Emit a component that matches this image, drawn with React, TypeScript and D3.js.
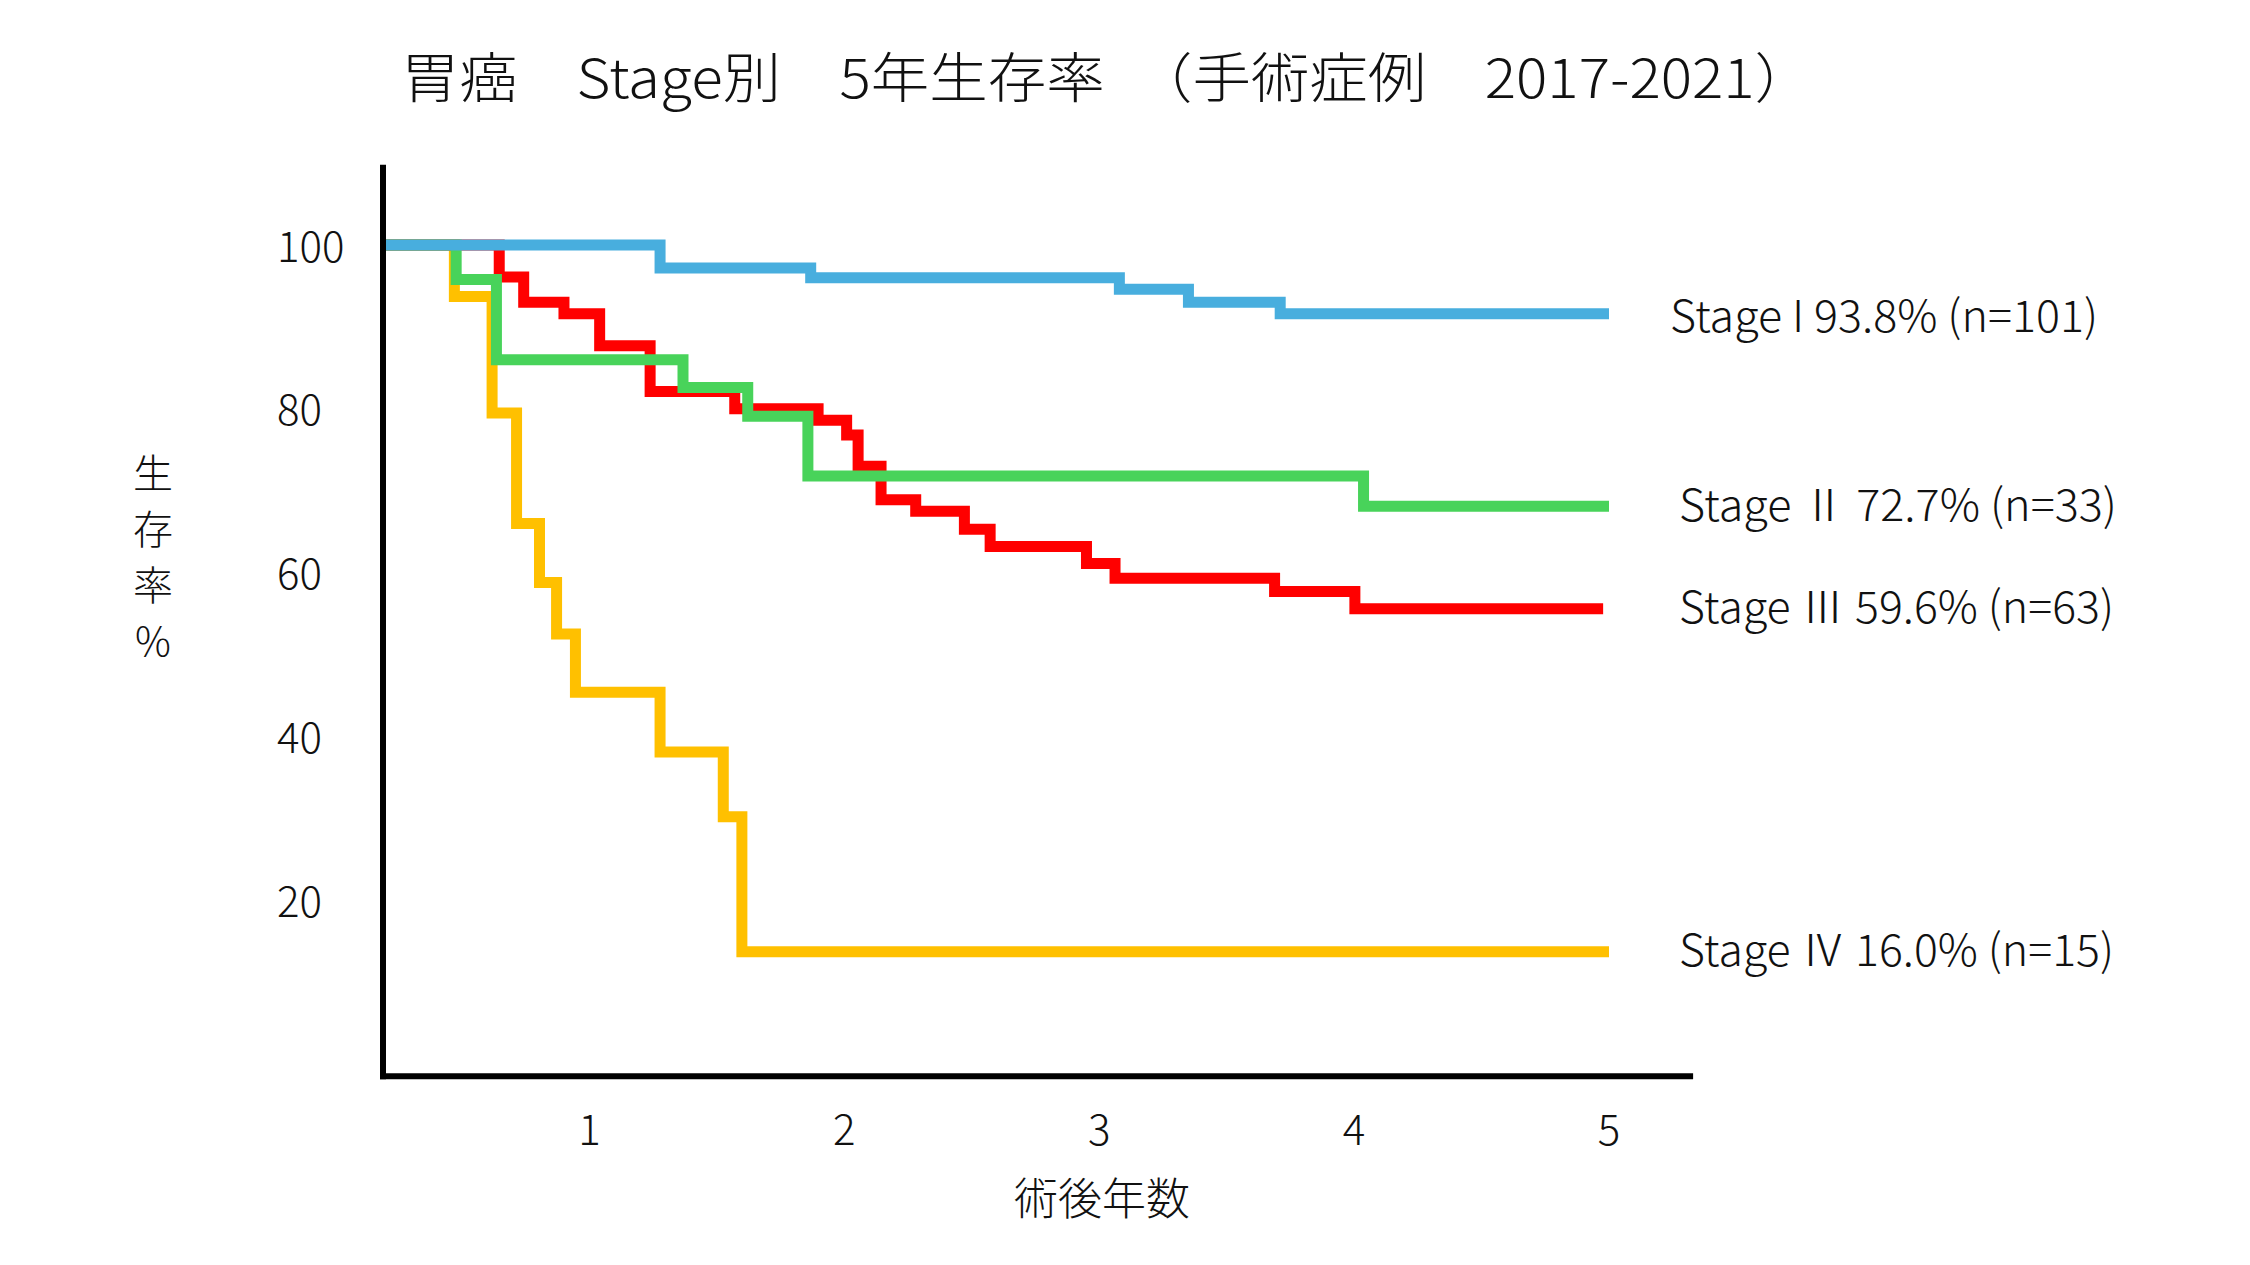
import React, { useEffect, useRef } from "react";
import * as d3 from "d3";

// Kaplan-Meier style step data (years after surgery, survival %)
const stage1Time = [0.19, 1.277, 1.868, 3.079, 3.35, 3.71, 5.0];
const stage1Surv = [100, 97.2, 96.0, 94.6, 93.0, 91.6, 91.6];

const stage2Time = [0.19, 0.477, 0.635, 1.367, 1.621, 1.857, 4.037, 5.0];
const stage2Surv = [100, 95.8, 86.0, 82.6, 79.1, 71.8, 68.1, 68.1];

const stage3Time = [0.19, 0.646, 0.742, 0.9, 1.04, 1.238, 1.57, 1.897, 2.009, 2.054, 2.144, 2.28, 2.471, 2.572, 2.95, 3.062, 3.688, 4.003, 4.977];
const stage3Surv = [100, 96.1, 93.0, 91.6, 87.7, 82.1, 80.0, 78.6, 76.8, 73.0, 68.9, 67.5, 65.3, 63.2, 61.1, 59.3, 57.7, 55.6, 55.6];

const stage4Time = [0.19, 0.47, 0.618, 0.714, 0.804, 0.871, 0.945, 1.277, 1.525, 1.598, 5.0];
const stage4Surv = [100, 93.7, 79.5, 66.0, 58.8, 52.5, 45.4, 38.1, 30.2, 13.7, 13.7];

const stageLabels = ["Stage I 93.8% (n=101)", "Stage Ⅱ 72.7% (n=33)", "Stage Ⅲ 59.6% (n=63)", "Stage Ⅳ 16.0% (n=15)"];
const xTicks = [1, 2, 3, 4, 5];
const yTicks = [20, 40, 60, 80, 100];

const title = "胃癌　Stage別　5年生存率　（手術症例　2017-2021）";
const yTitle = ["生", "存", "率", "%"];
const xTitle = "術後年数";

const FONT = "'Noto Sans CJK JP', 'Noto Sans', sans-serif";

export default function App() {
  const svgRef = useRef<SVGSVGElement>(null);

  useEffect(() => {
    document.body.style.margin = "0";
    const svg = d3.select(svgRef.current);
    svg.selectAll("*").remove();

    const width = 2250, height = 1265;
    svg.attr("width", width).attr("height", height).style("background", "#fff");

    const x = d3.scaleLinear().domain([0.19, 5]).range([383, 1609]);
    const y = d3.scaleLinear().domain([0, 100]).range([1064, 245]);

    const series = [
      { time: stage4Time, surv: stage4Surv, color: "#FFC000", label: stageLabels[3], dx: 70, len: 435, dy: -5 },
      { time: stage3Time, surv: stage3Surv, color: "#FF0000", label: stageLabels[2], dx: 70, len: 435, dy: -5 },
      { time: stage2Time, surv: stage2Surv, color: "#48D35A", label: stageLabels[1], dx: 70, len: 438, dy: -4 },
      { time: stage1Time, surv: stage1Surv, color: "#48AEDE", label: stageLabels[0], dx: 61, len: 428, dy: -1 },
    ];

    const line = d3.line<[number, number]>()
      .x(d => x(d[0]))
      .y(d => y(d[1]))
      .curve(d3.curveStepAfter);

    series.forEach(s => {
      const pts: [number, number][] = s.time.map((t, i) => [t, s.surv[i]]);
      svg.append("path")
        .attr("d", line(pts))
        .attr("fill", "none")
        .attr("stroke", s.color)
        .attr("stroke-width", 11)
        .attr("stroke-linejoin", "miter");

      svg.append("text")
        .attr("x", x(5) + s.dx)
        .attr("y", y(s.surv[s.surv.length - 1]) + s.dy)
        .attr("dominant-baseline", "central")
        .attr("font-family", FONT)
        .attr("font-weight", 300)
        .attr("font-size", 44)
        .attr("fill", "#111")
        .attr("textLength", s.len)
        .attr("lengthAdjust", "spacingAndGlyphs")
        .text(s.label);
    });

    // axes
    svg.append("line")
      .attr("x1", 383).attr("x2", 383)
      .attr("y1", y(109.8)).attr("y2", y(-1.5) + 3)
      .attr("stroke", "#000").attr("stroke-width", 6);
    svg.append("line")
      .attr("x1", 380).attr("x2", x(5.33))
      .attr("y1", y(-1.5)).attr("y2", y(-1.5))
      .attr("stroke", "#000").attr("stroke-width", 6);

    svg.selectAll("text.ytick")
      .data(yTicks)
      .enter()
      .append("text")
      .attr("class", "ytick")
      .attr("x", 277)
      .attr("y", d => y(d) - 2)
      .attr("dominant-baseline", "central")
      .attr("font-family", FONT)
      .attr("font-weight", 300)
      .attr("font-size", 42)
      .attr("fill", "#111")
      .text(d => d);

    svg.selectAll("text.xtick")
      .data(xTicks)
      .enter()
      .append("text")
      .attr("class", "xtick")
      .attr("x", d => x(d))
      .attr("y", 1145)
      .attr("text-anchor", "middle")
      .attr("font-family", FONT)
      .attr("font-weight", 300)
      .attr("font-size", 42)
      .attr("fill", "#111")
      .text(d => d);

    // titles
    svg.append("text")
      .attr("x", 401)
      .attr("y", 74)
      .attr("dominant-baseline", "central")
      .attr("font-family", FONT)
      .attr("font-weight", 300)
      .attr("font-size", 54)
      .attr("fill", "#111")
      .attr("textLength", 1412)
      .attr("lengthAdjust", "spacingAndGlyphs")
      .text(title);

    svg.append("text")
      .attr("x", 1102)
      .attr("y", 1196)
      .attr("text-anchor", "middle")
      .attr("dominant-baseline", "central")
      .attr("font-family", FONT)
      .attr("font-weight", 300)
      .attr("font-size", 44)
      .attr("fill", "#111")
      .text(xTitle);

    svg.selectAll("text.ytitle")
      .data(yTitle)
      .enter()
      .append("text")
      .attr("class", "ytitle")
      .attr("x", 153)
      .attr("y", (d, i) => 471 + i * 56)
      .attr("text-anchor", "middle")
      .attr("dominant-baseline", "central")
      .attr("font-family", FONT)
      .attr("font-weight", 300)
      .attr("font-size", 40)
      .attr("fill", "#111")
      .text(d => d);
  }, []);

  return <svg ref={svgRef}></svg>;
}
